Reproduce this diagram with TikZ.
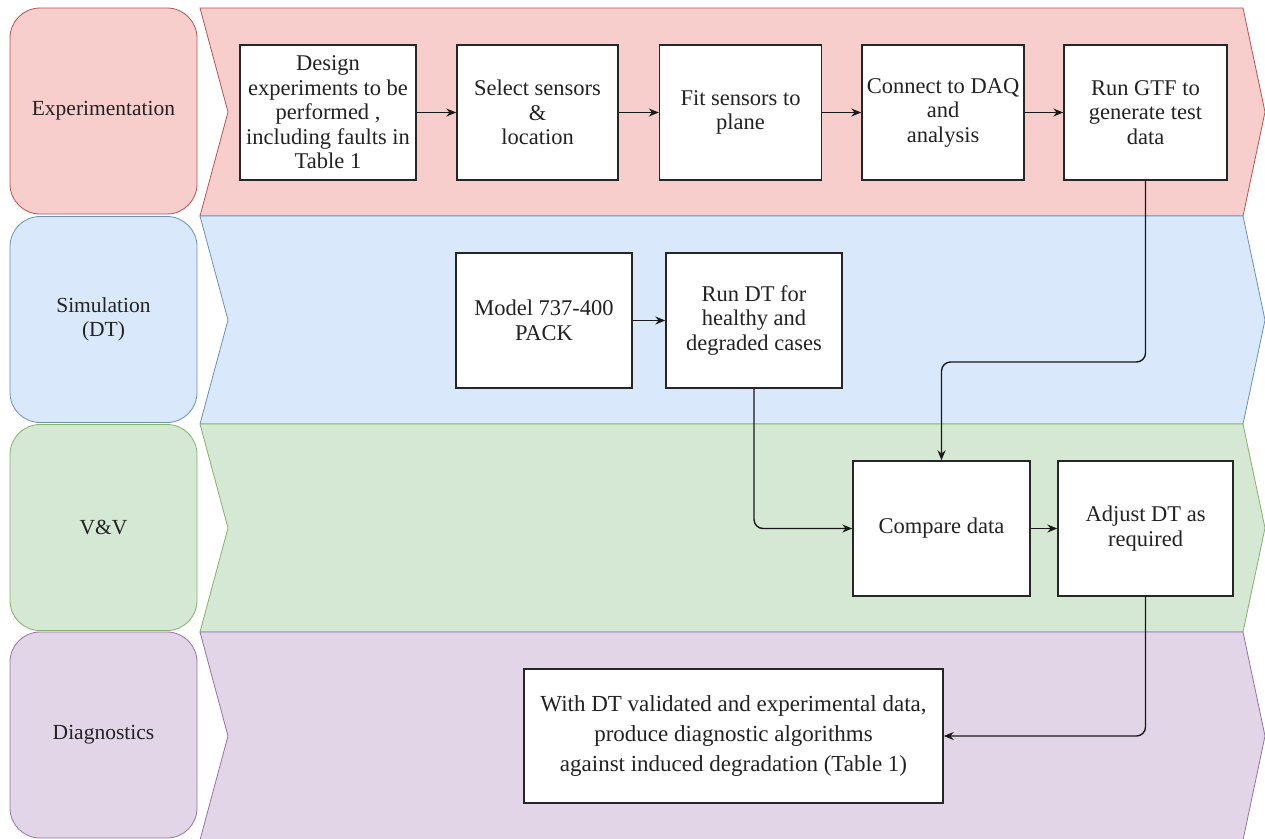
\documentclass[tikz,border=0pt]{standalone}
\usepackage{fontspec}
\setmainfont{Liberation Serif}
\newfontfamily\tnr{Liberation Serif}
\usetikzlibrary{arrows.meta}
\definecolor{exF}{HTML}{F8CECC}\definecolor{exD}{HTML}{B85450}
\definecolor{siF}{HTML}{DAE8FC}\definecolor{siD}{HTML}{6C8EBF}
\definecolor{vvF}{HTML}{D5E8D4}\definecolor{vvD}{HTML}{82B366}
\definecolor{diF}{HTML}{E1D5E7}\definecolor{diD}{HTML}{9673A6}
\definecolor{txt}{HTML}{222222}
\tikzset{
  lanelabel/.style={draw, rounded corners=30pt, minimum width=187pt, minimum height=206pt, line width=0.8pt, align=center, text=txt, font=\tnr\fontsize{21.5}{24.5}\selectfont},
  stepbox/.style={draw=black!85, fill=white, line width=1.4pt, align=center, text=txt, minimum height=135pt, inner sep=0pt, font=\tnr\fontsize{22.5}{24.5}\selectfont},
  arr/.style={-{Stealth[length=10pt,width=8pt]}, line width=1.4pt, draw=black!90, rounded corners=9pt}
}
\newcommand{\chev}[3]{% top y, fill, draw
  \filldraw[fill=#2, draw=#3, line width=0.8pt] (200,#1) -- (1243,#1) -- (1265,#1+104) -- (1243,#1+208) -- (200,#1+208) -- (228,#1+104) -- cycle;}
\begin{document}
\begin{tikzpicture}[x=1pt,y=-1pt]
\useasboundingbox (0,0) rectangle (1265,838);
\fill[white] (0,0) rectangle (1265,838);
% lanes
\chev{8}{exF}{exD}
\chev{216}{siF}{siD}
\chev{424}{vvF}{vvD}
\chev{632}{diF}{diD}
% lane labels
\node[lanelabel, fill=exF, draw=exD] (lex) at (103.5,111) {Experimentation};
\node[lanelabel, fill=siF, draw=siD] (lsi) at (103.5,319.5) {Simulation\\(DT)};
\node[lanelabel, fill=vvF, draw=vvD] (lvv) at (103.5,527.5) {V\&V};
\node[lanelabel, fill=diF, draw=diD] (ldi) at (103.5,735) {Diagnostics};
% row 1
\node[stepbox, minimum width=176pt] (design) at (328,112.5) {Design\\experiments to be\\performed ,\\including faults in\\Table 1};
\node[stepbox, minimum width=161pt] (select) at (537.5,112.5) {Select sensors\\\&\\location};
\node[stepbox, minimum width=162pt] (fit) at (740.5,112.5) {Fit sensors to\\plane};
\node[stepbox, minimum width=162pt] (daq) at (943,112.5) {Connect to DAQ\\and\\analysis};
\node[stepbox, minimum width=163pt] (gtf) at (1145.5,112.5) {Run GTF to\\generate test\\data};
% row 2
\node[stepbox, minimum width=176pt] (model) at (544,320.5) {Model 737-400\\PACK};
\node[stepbox, minimum width=176pt] (rdt) at (754,320.5) {Run DT for\\healthy and\\degraded cases};
% row 3
\node[stepbox, minimum width=177pt] (cmp) at (941.5,528.5) {Compare data};
\node[stepbox, minimum width=175pt] (adj) at (1145.5,528.5) {Adjust DT as\\required};
% row 4
\node[stepbox, minimum width=419pt, minimum height=134pt, font=\tnr\fontsize{23}{30}\selectfont] (diag) at (733.5,736) {With DT validated and experimental data,\\produce diagnostic algorithms\\against induced degradation (Table 1)};
% connectors
\draw[arr] (design) -- (select);
\draw[arr] (select) -- (fit);
\draw[arr] (fit) -- (daq);
\draw[arr] (daq) -- (gtf);
\draw[arr] (model) -- (rdt);
\draw[arr] (cmp) -- (adj);
\coordinate (k1) at (941.5,362);
\draw[arr] (gtf.south) |- (k1) -- (cmp.north);
\draw[arr] (rdt.south) |- (cmp.west);
\draw[arr] (adj.south) |- (diag.east);
\end{tikzpicture}
\end{document}
